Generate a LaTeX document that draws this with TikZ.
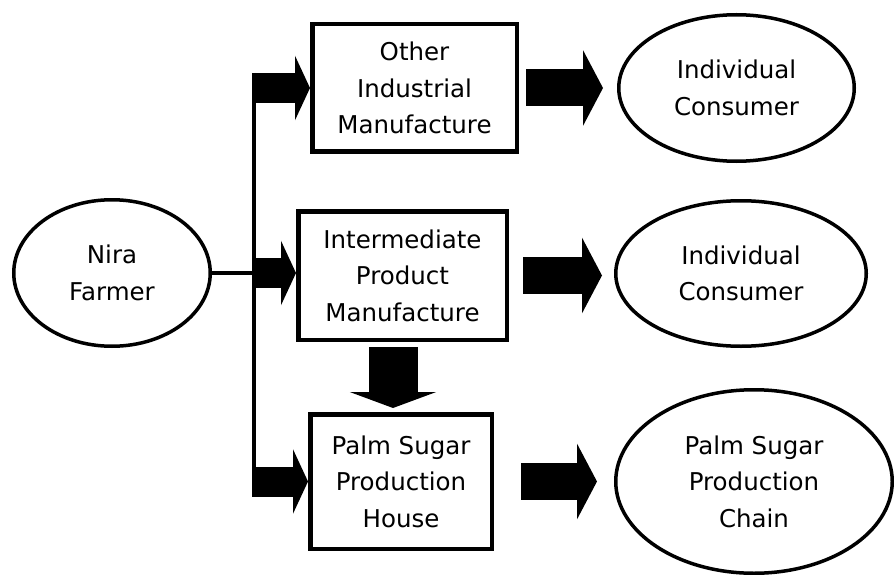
\documentclass[tikz,border=0pt]{standalone}
\usepackage{fontspec}
\setmainfont{DejaVu Sans}
\usetikzlibrary{arrows.meta,shapes.geometric,calc}

\begin{document}
\begin{tikzpicture}[x=1pt,y=-1pt,
  label font/.style={font=\fontsize{24.5}{36.5}\selectfont},
  box/.style={draw, line width=4.5pt, rectangle, align=center, inner sep=0pt, label font},
  oval/.style={draw, line width=3.5pt, ellipse, align=center, inner sep=0pt, label font},
  feed/.style={line width=4pt},
  slimarrow/.style={line width=30pt, -{Triangle[length=15pt,width=64pt]}},
  fatarrow/.style={line width=37pt, -{Triangle[length=20pt,width=75pt]}},
  downarrow/.style={line width=49pt, -{Triangle[length=16pt,width=86pt]}}]

\useasboundingbox (0,0) rectangle (894,575);

% source
\node[oval, minimum width=196.5pt, minimum height=146.5pt] (farmer) at (112,273) {Nira\\Farmer};

% processors
\node[box, minimum width=204.5pt, minimum height=127.5pt] (box1) at (414.5,88) {Other\\Industrial\\Manufacture};
\node[box, minimum width=208.5pt, minimum height=128.5pt] (box2) at (402.5,275.5) {Intermediate\\Product\\Manufacture};
\node[box, minimum width=181.5pt, minimum height=134.5pt] (box3) at (401,481.5) {Palm Sugar\\Production\\House};

% end points
\node[oval, minimum width=235.5pt, minimum height=146.5pt] (ind1) at (736.5,88) {Individual\\Consumer};
\node[oval, minimum width=250.5pt, minimum height=145.5pt] (ind2) at (741,273.5) {Individual\\Consumer};
\node[oval, minimum width=276.5pt, minimum height=183.5pt] (chain) at (754,481.5) {Palm Sugar\\Production\\Chain};

% distribution bus from the farmer
\coordinate (bustop) at (254,73);
\coordinate (busbot) at (254,496.5);
\draw[feed] (farmer.east) -- (farmer.east -| bustop);
\draw[feed] (bustop) -- (busbot);

% arrows into the processors
\draw[slimarrow] (box1.west -| bustop) -- (box1.west);
\draw[slimarrow] (farmer.east -| bustop) -- (farmer.east -| box2.west);
\draw[slimarrow] (box3.west -| bustop) -- (box3.west);

% arrows to the end points
\draw[fatarrow, shorten <=7pt, shorten >=14pt] (box1.east) -- (ind1.west);
\draw[fatarrow, shorten <=14pt, shorten >=12pt] (box2.east) -- (box2.east -| ind2.west);
\draw[fatarrow, shorten <=27pt, shorten >=17pt] (box3.east) -- (box3.east -| chain.west);

% intermediate product to the production house
\coordinate (dtop) at ($(box2.south)+(-9.5,0)$);
\draw[downarrow, shorten <=5pt, shorten >=4pt] (dtop) -- (dtop |- box3.north);
\end{tikzpicture}
\end{document}
